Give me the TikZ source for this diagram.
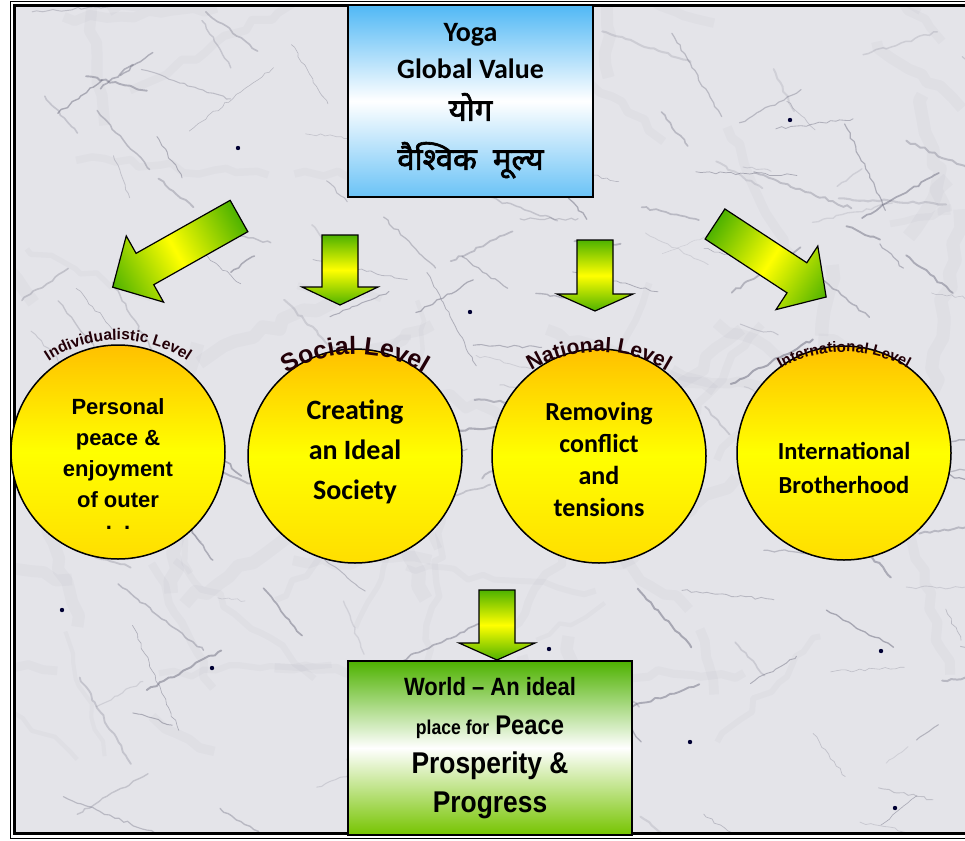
\documentclass[tikz,border=0pt]{standalone}
\usepackage{fontspec}
\setmainfont{Carlito}
\newfontfamily\arialfont{Liberation Sans}
\newfontfamily\narrowfont[FakeStretch=0.88]{Liberation Sans}
\newfontfamily\hindifont[Script=Devanagari,FakeBold=2.2]{Noto Sans}
\usetikzlibrary{decorations.text,decorations.pathmorphing}

\definecolor{skyblue}{RGB}{80,184,245}
\definecolor{leafgreen}{RGB}{78,178,0}
\definecolor{limegreen}{RGB}{118,196,0}
\definecolor{sunorange}{RGB}{255,192,0}
\definecolor{sunyellow}{RGB}{255,255,0}
\definecolor{sungold}{RGB}{255,222,0}
\definecolor{marble}{RGB}{228,228,233}
\definecolor{veingray}{RGB}{95,95,115}
\definecolor{lvltext}{RGB}{35,0,8}

\tikzstyle{levelbubble}=[circle,draw=black,line width=1.5pt,minimum size=214pt,inner sep=0pt,top color=sunorange,bottom color=sungold,middle color=sunyellow]
\tikzstyle{bubbletext}=[align=center,inner sep=0pt,font=\bfseries]
\tikzstyle{yogabox}=[rectangle,draw=black,line width=1.5pt,minimum width=245pt,minimum height=192pt,top color=skyblue,bottom color=skyblue!85,middle color=white,align=center,font=\fontsize{28}{37}\selectfont\bfseries]
\tikzstyle{worldbox}=[rectangle,draw=black,line width=1.5pt,minimum width=284pt,minimum height=174pt,top color=leafgreen,bottom color=limegreen,middle color=white,align=center,font=\narrowfont\bfseries\fontsize{25}{39}\selectfont]
\tikzstyle{blockarrow}=[draw=black,line width=1.2pt,left color=leafgreen,right color=leafgreen,middle color=sunyellow]
\tikzstyle{vein}=[veingray,decorate,decoration={random steps,segment length=5pt,amplitude=1.4pt},line cap=round]
\tikzstyle{cloud}=[veingray,decorate,decoration={random steps,segment length=14pt,amplitude=5pt},line join=round]

% tail x, tail y, angle, length, head length
\newcommand{\blockarrow}[5]{%
  \begin{scope}[transform canvas={shift={(#1,#2)},rotate=#3}]
    \draw[blockarrow] (0,-18) -- (#4-#5,-18) -- (#4-#5,-38) -- (#4,0)
      -- (#4-#5,38) -- (#4-#5,18) -- (0,18) -- cycle;
  \end{scope}}

% centre x, centre y, radius, text
\newcommand{\levelarc}[4]{%
  \path[decorate,decoration={text along path,text align=center,text color=lvltext,text={#4}}]
    ([shift={(160:#3)}]#1,#2) arc (160:20:#3);}

\begin{document}
\begin{tikzpicture}[x=1pt,y=1pt]
    \useasboundingbox (0,0) rectangle (965,-840);

    % marble background
    \fill[marble] (14,-6) rectangle (975,-833);
    \begin{scope}
    \clip (14,-6) rectangle (975,-833);
    \pgfmathsetseed{17}
    \foreach \v in {1,...,70}{
      \pgfmathsetmacro{\vx}{20+950*rnd}
      \pgfmathsetmacro{\vy}{-10-820*rnd}
      \pgfmathsetmacro{\va}{180*rnd}
      \pgfmathsetmacro{\vl}{60+140*rnd}
      \pgfmathsetmacro{\vw}{4+10*rnd}
      \draw[cloud,line width=\vw pt,opacity=0.035] (\vx,\vy) -- ++(\va:\vl);
    }
    \foreach \v in {1,...,170}{
      \pgfmathsetmacro{\vx}{20+950*rnd}
      \pgfmathsetmacro{\vy}{-10-820*rnd}
      \pgfmathsetmacro{\va}{-70+110*rnd}
      \pgfmathsetmacro{\vl}{25+90*rnd}
      \pgfmathsetmacro{\vo}{0.12+0.35*rnd}
      \pgfmathsetmacro{\vw}{0.5+1.6*rnd}
      \draw[vein,line width=\vw pt,opacity=\vo] (\vx,\vy) -- ++(\va:\vl);
    }
    \foreach \dx/\dy in {238/148,549/649,881/651,895/808,690/742,212/668,470/312,62/610,790/120,930/420}
      \fill[black!80!blue] (\dx,-\dy) circle (2.2);
    \end{scope}

    % frame
    \draw[line width=1pt] (10,-2) rectangle (985,-838);
    \draw[line width=3pt] (14,-6) rectangle (985,-833);

    % arrows
    \blockarrow{239}{-216}{209.4}{145}{37}
    \blockarrow{340}{-235}{-90}{70}{18}
    \blockarrow{595}{-240}{-90}{71}{17}
    \blockarrow{715}{-224}{-33.3}{133}{35}
    \blockarrow{497}{-590}{-90}{70}{17}

    % level circles
    \node[levelbubble] (c1) at (118,-452) {};
    \node[levelbubble] (c2) at (355,-456) {};
    \node[levelbubble] (c3) at (599,-456) {};
    \node[levelbubble] (c4) at (844,-453) {};

    \node[bubbletext,font=\arialfont\bfseries\fontsize{22}{31}\selectfont] (t1) at ([yshift=-17pt]c1.center)
        {Personal\\peace \&\\enjoyment\\of outer\\\raisebox{9pt}[0pt][0pt]{.\ \ .}};
    \node[bubbletext,font=\bfseries\fontsize{28}{40}\selectfont] (t2) at ([yshift=4pt]c2.center)
        {Creating\\an Ideal\\Society};
    \node[bubbletext,font=\bfseries\fontsize{26}{32}\selectfont] (t3) at ([yshift=-3pt]c3.center)
        {Removing\\conflict\\and\\tensions};
    \node[bubbletext,font=\bfseries\fontsize{24.5}{34}\selectfont] (t4) at ([yshift=-15pt]c4.center)
        {International\\Brotherhood};

    % level labels
    \levelarc{118}{-465}{125}{|\arialfont\bfseries\fontsize{15.5}{15}\selectfont|Individualistic Level}
    \levelarc{355}{-484}{130}{|\arialfont\bfseries\fontsize{25}{25}\selectfont|Social Level}
    \levelarc{599}{-482}{130}{|\arialfont\bfseries\fontsize{21}{21}\selectfont|National Level}
    \levelarc{844}{-482}{130}{|\arialfont\bfseries\fontsize{15}{15}\selectfont|International Level}

    % boxes
    \node[yogabox] (yoga) at (470.5,-101)
        {Yoga\\Global Value\\[5pt]{\hindifont\fontsize{31}{37}\selectfont योग}\\[12pt]{\hindifont\fontsize{31}{37}\selectfont वैश्विक\ \ मूल्य}};
    \node[worldbox] (world) at (490,-748)
        {World – An ideal\\
         {\fontsize{20}{39}\selectfont place for} {\fontsize{27}{39}\selectfont Peace}\\
         \fontsize{30}{39}\selectfont Prosperity \&\\
         \fontsize{30}{39}\selectfont Progress};
\end{tikzpicture}
\end{document}
